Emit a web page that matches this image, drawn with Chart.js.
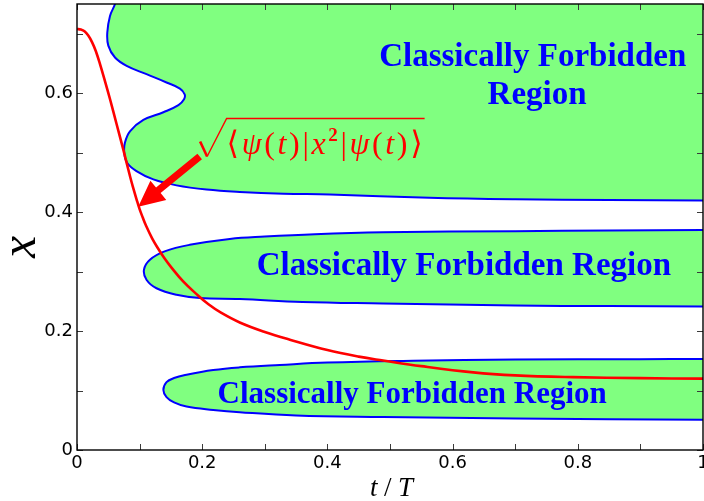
<!DOCTYPE html>
<html>
<head>
<meta charset="utf-8">
<script src="https://cdn.jsdelivr.net/npm/chart.js@4/dist/chart.umd.min.js"></script>
<style>
  html, body { margin: 0; padding: 0; background: #fff; }
  canvas { display: block; }
</style>
</head>
<body>
<canvas id="chart" width="704" height="501"></canvas>
<script>
// Root-mean-square position sqrt(<psi(t)|x^2|psi(t)>) against t/T
const rmsT = [0, 0.006, 0.012, 0.018, 0.024, 0.03, 0.037, 0.045, 0.053, 0.063, 0.074, 0.085, 0.09, 0.095, 0.10, 0.105, 0.11, 0.12, 0.13, 0.14, 0.15, 0.17, 0.19, 0.21, 0.23, 0.26, 0.30, 0.34, 0.40, 0.45, 0.489, 0.55, 0.633, 0.70, 0.792, 0.9, 1.0];
const rmsX = [0.708, 0.707, 0.704, 0.697, 0.686, 0.671, 0.648, 0.619, 0.589, 0.549, 0.505, 0.459, 0.440, 0.422, 0.405, 0.391, 0.378, 0.356, 0.338, 0.322, 0.308, 0.283, 0.263, 0.245, 0.231, 0.2145, 0.1985, 0.1855, 0.168, 0.157, 0.1505, 0.141, 0.1305, 0.1255, 0.1225, 0.1208, 0.120];

// Boundary of the upper classically forbidden region (closed beyond the axes)
const upperRegionT = [0.075, 0.068, 0.0607, 0.0527, 0.0484, 0.050, 0.0607, 0.0793, 0.111, 0.143, 0.1644, 0.172, 0.171, 0.162, 0.138, 0.106, 0.0846, 0.0766, 0.0755, 0.080, 0.095, 0.122, 0.159, 0.207, 0.260, 0.33, 0.404, 0.563, 0.70, 0.85, 1.0, 1.03, 1.06, 1.06];
const upperRegionX = [0.80, 0.78, 0.75, 0.730, 0.702, 0.680, 0.660, 0.646, 0.632, 0.618, 0.6077, 0.598, 0.590, 0.580, 0.568, 0.555, 0.536, 0.517, 0.500, 0.483, 0.469, 0.455, 0.445, 0.438, 0.434, 0.431, 0.4297, 0.424, 0.4215, 0.4205, 0.4195, 0.4193, 0.4192, 0.80];

// Boundary of the middle forbidden region
const middleRegionT = [1.06, 1.0, 0.85, 0.70, 0.489, 0.38, 0.30, 0.244, 0.18, 0.14, 0.1165, 0.107, 0.111, 0.127, 0.159, 0.196, 0.26, 0.36, 0.489, 0.70, 0.85, 1.0, 1.06];
const middleRegionX = [0.3702, 0.370, 0.369, 0.368, 0.366, 0.363, 0.359, 0.355, 0.345, 0.334, 0.320, 0.3033, 0.2864, 0.272, 0.261, 0.2556, 0.254, 0.249, 0.2465, 0.243, 0.242, 0.2415, 0.2413];

// Boundary of the lower forbidden region
const lowerRegionT = [1.06, 1.0, 0.899, 0.70, 0.537, 0.40, 0.324, 0.26, 0.2176, 0.175, 0.155, 0.143, 0.138, 0.143, 0.155, 0.175, 0.2176, 0.26, 0.35, 0.489, 0.70, 1.0, 1.06];
const lowerRegionX = [0.1532, 0.153, 0.1528, 0.152, 0.150, 0.147, 0.143, 0.139, 0.1345, 0.1265, 0.121, 0.114, 0.101, 0.089, 0.080, 0.073, 0.0674, 0.0635, 0.058, 0.0555, 0.053, 0.051, 0.0508];

// Axis tick labels (majors every 0.2; minors every 0.1 stay unlabelled)
const xTickLabels = ['0', '0.2', '0.4', '0.6', '0.8', '1'];
const yTickLabels = ['0', '0.2', '0.4', '0.6'];

// Region captions: text lines with the (t, x) of each line's centre baseline
const regionCaptionText = ['Classically Forbidden', 'Region', 'Classically Forbidden Region', 'Classically Forbidden Region'];
const regionCaptionT = [0.728, 0.735, 0.618, 0.5355];
const regionCaptionX = [0.6458, 0.5813, 0.2949, 0.0797];

// Arrow pointing at the rms curve: tail and tip in (t, x)
const arrowT = [0.196, 0.0978];
const arrowX = [0.4937, 0.409];
const formulaAnchor = { t: 0.239, x: 0.497 };

const toPoints = (ts, xs) => ts.map((t, i) => ({ x: t, y: xs[i] }));

const GREEN = 'rgb(128,255,128)';
const BLUE = '#0000ff';
const RED = '#ff0000';
const SERIF = '"Liberation Serif", "DejaVu Serif", serif';

function majorLabel(list) {
  return function (v) {
    const k = v / 0.2, r = Math.round(k);
    return Math.abs(k - r) < 1e-6 && r >= 0 && r < list.length ? list[r] : '';
  };
}

// Draws a row of text runs spread to a given total width
function drawRuns(ctx, runs, fontOf, x0, y0, width, raise) {
  let natural = 0;
  runs.forEach(([s, k]) => { ctx.font = fontOf(k); natural += ctx.measureText(s).width; });
  const gap = Math.max(0, (width - natural) / (runs.length - 1));
  let cx = x0;
  runs.forEach(([s, k]) => {
    ctx.font = fontOf(k);
    ctx.fillText(s, cx, k === 'sup' ? y0 - raise : y0);
    cx += ctx.measureText(s).width + gap;
  });
  return cx - gap;
}

const decorations = {
  id: 'decorations',
  afterDatasetsDraw(chart) {
    const { ctx, chartArea: a, scales: { x, y } } = chart;
    ctx.save();

    // region captions
    ctx.fillStyle = BLUE;
    ctx.textAlign = 'center';
    ctx.textBaseline = 'alphabetic';
    regionCaptionText.forEach((txt, i) => {
      ctx.font = (i === 3 ? 'bold 31px ' : 'bold 33px ') + SERIF;
      ctx.fillText(txt, x.getPixelForValue(regionCaptionT[i]), y.getPixelForValue(regionCaptionX[i]));
    });

    // arrow
    const x0 = x.getPixelForValue(arrowT[0]), y0 = y.getPixelForValue(arrowX[0]);
    const x1 = x.getPixelForValue(arrowT[1]), y1 = y.getPixelForValue(arrowX[1]);
    const len = Math.hypot(x1 - x0, y1 - y0);
    const ux = (x1 - x0) / len, uy = (y1 - y0) / len;
    const nx = -uy, ny = ux;
    const sw = 3.6, hw = 12.5, hl = 26;
    const bx = x1 - ux * hl, by = y1 - uy * hl;
    ctx.fillStyle = RED;
    ctx.beginPath();
    ctx.moveTo(x0 + nx * sw, y0 + ny * sw);
    ctx.lineTo(bx + nx * sw, by + ny * sw);
    ctx.lineTo(bx + nx * hw, by + ny * hw);
    ctx.lineTo(x1, y1);
    ctx.lineTo(bx - nx * hw, by - ny * hw);
    ctx.lineTo(bx - nx * sw, by - ny * sw);
    ctx.lineTo(x0 - nx * sw, y0 - ny * sw);
    ctx.closePath();
    ctx.fill();

    // formula sqrt(<psi(t)|x^2|psi(t)>)
    const fx = x.getPixelForValue(formulaAnchor.t), fy = y.getPixelForValue(formulaAnchor.x);
    const runs = [
      ['\u27E8', false], ['\u03C8', true], ['(', false], ['t', true], [')', false], ['|', false],
      ['x', true], ['2', 'sup'], ['|', false], ['\u03C8', true], ['(', false], ['t', true], [')', false], ['\u27E9', false]
    ];
    const fontOf = (k) => k === 'sup' ? 'bold 19px ' + SERIF : (k ? 'italic 32px ' + SERIF : '32px ' + SERIF);
    ctx.fillStyle = RED;
    ctx.textAlign = 'left';
    const endX = drawRuns(ctx, runs, fontOf, fx, fy, 196, 13) + 2;
    ctx.strokeStyle = RED;
    ctx.lineCap = 'butt';
    ctx.lineWidth = 2.6;
    ctx.beginPath();
    ctx.moveTo(fx - 26.5, fy - 13);
    ctx.lineTo(fx - 19.5, fy + 2);
    ctx.stroke();
    ctx.lineWidth = 1.4;
    ctx.beginPath();
    ctx.moveTo(fx - 19.5, fy + 2);
    ctx.lineTo(fx, fy - 36);
    ctx.lineTo(endX, fy - 36);
    ctx.stroke();

    // inward tick marks on all four sides
    ctx.strokeStyle = '#3a3a3a';
    ctx.lineWidth = 1;
    const tl = 6;
    x.ticks.forEach(tk => {
      const v = tk.value;
      if (Math.abs(v * 10 - Math.round(v * 10)) > 1e-6) return;
      const px = Math.round(x.getPixelForValue(v)) + 0.5;
      ctx.beginPath();
      ctx.moveTo(px, a.bottom); ctx.lineTo(px, a.bottom - tl);
      ctx.moveTo(px, a.top); ctx.lineTo(px, a.top + tl);
      ctx.stroke();
    });
    y.ticks.forEach(tk => {
      const v = tk.value;
      if (Math.abs(v * 10 - Math.round(v * 10)) > 1e-6) return;
      const py = Math.round(y.getPixelForValue(v)) + 0.5;
      ctx.beginPath();
      ctx.moveTo(a.left, py); ctx.lineTo(a.left + tl, py);
      ctx.moveTo(a.right, py); ctx.lineTo(a.right - tl, py);
      ctx.stroke();
    });

    // frame
    ctx.strokeStyle = '#000';
    ctx.lineWidth = 1.4;
    ctx.strokeRect(a.left, a.top, a.right - a.left, a.bottom - a.top);

    // axis titles
    ctx.fillStyle = '#000';
    ctx.textAlign = 'left';
    ctx.textBaseline = 'alphabetic';
    const xt = [['t', true], ['/', false], ['T', true]];
    const xtFont = (k) => (k ? 'italic 27px ' : '27px ') + SERIF;
    drawRuns(ctx, xt, xtFont, (a.left + a.right) / 2 - 20, a.bottom + 46, 43, 0);

    ctx.save();
    ctx.textAlign = 'center';
    ctx.translate(a.left - 42, (a.top + a.bottom) / 2 + 20);
    ctx.rotate(-Math.PI / 2);
    ctx.font = 'italic 50px ' + SERIF;
    ctx.fillText('x', 0, 0);
    ctx.restore();

    ctx.restore();
  }
};

const lineBase = { pointRadius: 0, pointHoverRadius: 0, clip: 0 };

new Chart(document.getElementById('chart'), {
  type: 'line',
  data: {
    datasets: [
      Object.assign({
        label: 'rms',
        data: toPoints(rmsT, rmsX),
        borderColor: RED,
        borderWidth: 2.6,
        fill: false,
        tension: 0.4
      }, lineBase),
      Object.assign({
        label: 'upper region',
        data: toPoints(upperRegionT, upperRegionX),
        borderColor: BLUE,
        borderWidth: 2,
        backgroundColor: GREEN,
        fill: 'shape',
        tension: 0.4
      }, lineBase),
      Object.assign({
        label: 'middle region',
        data: toPoints(middleRegionT, middleRegionX),
        borderColor: BLUE,
        borderWidth: 2,
        backgroundColor: GREEN,
        fill: 'shape',
        tension: 0.4
      }, lineBase),
      Object.assign({
        label: 'lower region',
        data: toPoints(lowerRegionT, lowerRegionX),
        borderColor: BLUE,
        borderWidth: 2,
        backgroundColor: GREEN,
        fill: 'shape',
        tension: 0.4
      }, lineBase)
    ]
  },
  options: {
    responsive: false,
    devicePixelRatio: 1,
    animation: false,
    layout: { padding: { top: 4, right: 1, bottom: 0, left: 0 } },
    plugins: { legend: { display: false }, tooltip: { enabled: false }, title: { display: false } },
    scales: {
      x: {
        type: 'linear',
        min: 0, max: 1,
        grid: { display: false, drawTicks: false },
        border: { display: false },
        ticks: {
          stepSize: 0.1, autoSkip: false, maxRotation: 0, padding: 3,
          color: '#000', font: { family: '"DejaVu Sans", sans-serif', size: 18 },
          callback: majorLabel(xTickLabels)
        },
        afterFit(s) { s.height = 51; s.paddingLeft = 0; s.paddingRight = 0; }
      },
      y: {
        type: 'linear',
        min: 0, max: 0.75,
        grid: { display: false, drawTicks: false },
        border: { display: false },
        ticks: {
          stepSize: 0.1, autoSkip: false, padding: 4,
          color: '#000', font: { family: '"DejaVu Sans", sans-serif', size: 18 },
          callback: majorLabel(yTickLabels)
        },
        afterFit(s) { s.width = 77; s.paddingTop = 0; s.paddingBottom = 0; }
      }
    }
  },
  plugins: [decorations]
});
</script>
</body>
</html>
